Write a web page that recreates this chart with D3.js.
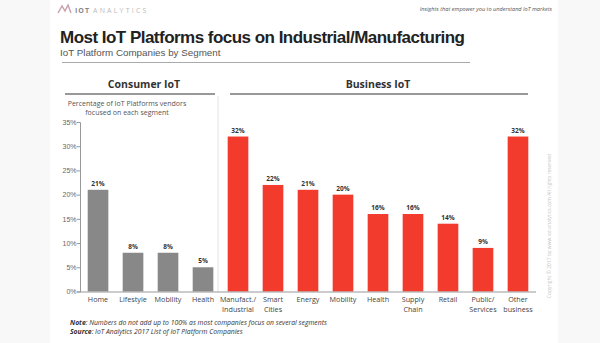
<!DOCTYPE html>
<html>
<head>
<meta charset="utf-8">
<script src="https://cdn.jsdelivr.net/npm/d3@7"></script>
<style>
  html, body { margin: 0; padding: 0; background: #f8f8f8; }
  svg { display: block; font-family: "Open Sans", "Liberation Sans", sans-serif; }
</style>
</head>
<body>
<svg id="mount" width="600" height="343"></svg>
<script>
var colorConsumer = "#888888";
var colorBusiness = "#f23b2d";
var colorText = "#444444";

// Segment groups and how many categories each one holds
var groupNames = ["Consumer IoT", "Business IoT"];
var groupSizes = [4, 9];

// Category labels ("\n" splits a label over two lines)
var categories = [
  "Home", "Lifestyle", "Mobility", "Health",
  "Manufact./\nIndustrial", "Smart\nCities", "Energy", "Mobility", "Health",
  "Supply\nChain", "Retail", "Public/\nServices", "Other\nbusiness"
];

// Share of IoT platform vendors focused on each segment (%)
var values = [21, 8, 8, 5, 32, 22, 21, 20, 16, 16, 14, 9, 32];

var yTicks = [0, 5, 10, 15, 20, 25, 30, 35];

var svg = d3.select("#mount");

// White slide area
svg.append("rect")
  .attr("x", 50).attr("y", 0)
  .attr("width", 508).attr("height", 343)
  .attr("fill", "#ffffff");

// Header: logo and tagline
var logo = svg.append("g").attr("transform", "translate(58,13)");
logo.append("path")
  .attr("d", "M0,0 L4,-7 L7,-2 L10,-8 L13,0")
  .attr("fill", "none")
  .attr("stroke", "#c9a0a8")
  .attr("stroke-width", 1.4);
logo.append("text")
  .attr("x", 17).attr("y", 0)
  .style("font-size", "7px").style("font-weight", "bold")
  .attr("fill", "#888")
  .style("letter-spacing", "1px")
  .text("IOT");
logo.append("text")
  .attr("x", 35).attr("y", 0)
  .style("font-size", "7px")
  .attr("fill", "#bbb")
  .style("letter-spacing", "2.2px")
  .text("ANALYTICS");

svg.append("text")
  .attr("x", 552).attr("y", 11)
  .attr("text-anchor", "end")
  .style("font-size", "5.6px").style("font-style", "italic")
  .attr("fill", "#555")
  .text("Insights that empower you to understand IoT markets");

// Title block
svg.append("text")
  .attr("x", 60).attr("y", 43)
  .style("font-family", "'Liberation Sans', Arial, sans-serif")
  .style("font-size", "17px").style("font-weight", "bold")
  .attr("fill", "#222")
  .attr("textLength", 405)
  .text("Most IoT Platforms focus on Industrial/Manufacturing");

svg.append("text")
  .attr("x", 60).attr("y", 56)
  .style("font-family", "'Liberation Sans', Arial, sans-serif")
  .style("font-size", "9.8px")
  .attr("fill", "#555")
  .text("IoT Platform Companies by Segment");

svg.append("line")
  .attr("x1", 62).attr("x2", 470)
  .attr("y1", 62.5).attr("y2", 62.5)
  .attr("stroke", "#aaa").attr("stroke-width", 1.2);

// Scales
var xScale = d3.scaleBand()
  .domain(d3.range(categories.length))
  .range([80, 536])
  .paddingInner(0.41)
  .paddingOuter(0.22);

var yScale = d3.scaleLinear()
  .domain([0, 35])
  .range([291.5, 122]);

// Group headings with their underlines
var headingX = [144, 378];
var lineExtent = [[65, 215], [230, 528]];
groupNames.forEach(function(name, i) {
  svg.append("text")
    .attr("x", headingX[i]).attr("y", 88)
    .attr("text-anchor", "middle")
    .style("font-size", "10.5px").style("font-weight", "bold")
    .attr("fill", "#333")
    .text(name);
  svg.append("line")
    .attr("x1", lineExtent[i][0]).attr("x2", lineExtent[i][1])
    .attr("y1", 94).attr("y2", 94)
    .attr("stroke", "#777").attr("stroke-width", 1.5);
});

// Divider between consumer and business segments
var splitX = xScale(groupSizes[0]) - (xScale.step() - xScale.bandwidth()) / 2 - 2.5;
svg.append("line")
  .attr("x1", splitX).attr("x2", splitX)
  .attr("y1", 96).attr("y2", 292)
  .attr("stroke", "#e2e2e2").attr("stroke-width", 1);

// Y axis title
var yTitle = svg.append("text")
  .attr("text-anchor", "middle")
  .style("font-size", "7px")
  .attr("fill", "#555");
yTitle.append("tspan").attr("x", 127).attr("y", 106)
  .text("Percentage of IoT Platforms vendors");
yTitle.append("tspan").attr("x", 127).attr("y", 114.5)
  .text("focused on each segment");

// Y axis
var yAxis = svg.append("g")
  .attr("transform", "translate(80,0)")
  .call(d3.axisLeft(yScale)
    .tickValues(yTicks)
    .tickSize(3)
    .tickFormat(function(d) { return d + "%"; }));
yAxis.select(".domain").attr("stroke", "#999");
yAxis.selectAll(".tick line").attr("stroke", "#999");
yAxis.selectAll(".tick text")
  .attr("fill", "#666")
  .style("font-size", "7px")
  .attr("x", -3.5);

// Bars
var consumerCount = groupSizes[0];
svg.append("g")
  .selectAll("rect")
  .data(values)
  .join("rect")
  .attr("x", function(d, i) { return xScale(i); })
  .attr("y", function(d) { return yScale(d); })
  .attr("width", xScale.bandwidth())
  .attr("height", function(d) { return yScale(0) - yScale(d); })
  .attr("fill", function(d, i) { return i < consumerCount ? colorConsumer : colorBusiness; });

// Baseline
svg.append("line")
  .attr("x1", 80).attr("x2", 536)
  .attr("y1", yScale(0) + 0.5).attr("y2", yScale(0) + 0.5)
  .attr("stroke", "#999").attr("stroke-width", 1);

// Value labels
svg.append("g")
  .selectAll("text")
  .data(values)
  .join("text")
  .attr("x", function(d, i) { return xScale(i) + xScale.bandwidth() / 2; })
  .attr("y", function(d) { return yScale(d) - 4; })
  .attr("text-anchor", "middle")
  .style("font-size", "6.5px").style("font-weight", "bold")
  .attr("fill", "#333")
  .text(function(d) { return d + "%"; });

// Category labels
var catLabels = svg.append("g")
  .selectAll("text")
  .data(categories)
  .join("text")
  .attr("text-anchor", "middle")
  .style("font-size", "7.2px")
  .attr("fill", colorText);
catLabels.each(function(label, i) {
  var cx = xScale(i) + xScale.bandwidth() / 2;
  var lines = label.split("\n");
  var t = d3.select(this);
  lines.forEach(function(line, j) {
    t.append("tspan")
      .attr("x", cx)
      .attr("y", 302 + j * 9.5)
      .text(line);
  });
});

// Footnotes
var note = svg.append("text")
  .attr("x", 70).attr("y", 325)
  .style("font-size", "6.8px").style("font-style", "italic")
  .attr("fill", "#333");
note.append("tspan").style("font-weight", "bold").text("Note");
note.append("tspan").text(": Numbers do not add up to 100% as most companies focus on several segments");

var source = svg.append("text")
  .attr("x", 70).attr("y", 334)
  .style("font-size", "6.8px").style("font-style", "italic")
  .attr("fill", "#333");
source.append("tspan").style("font-weight", "bold").text("Source");
source.append("tspan").text(": IoT Analytics 2017 List of IoT Platform Companies");

// Copyright along the right edge
svg.append("text")
  .attr("transform", "translate(551,226) rotate(-90)")
  .attr("text-anchor", "middle")
  .style("font-size", "5px")
  .attr("fill", "#c4c4c4")
  .text("Copyright \u00a9 2017 by www.iot-analytics.com All rights reserved");
</script>
</body>
</html>
